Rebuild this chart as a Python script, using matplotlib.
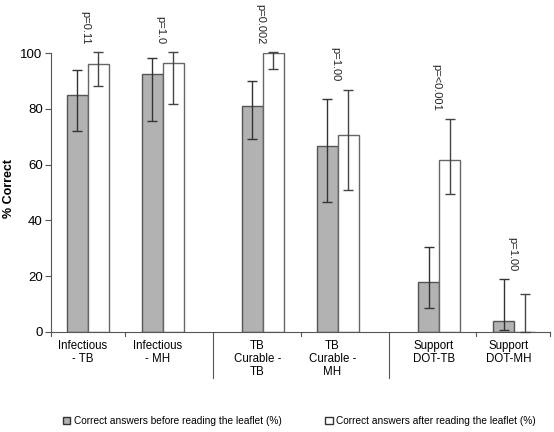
"""
Percent correct answers before / after reading the leaflet
"""

import matplotlib
matplotlib.use('Agg')

import numpy as np
import matplotlib.pyplot as plt
from matplotlib.patches import Patch

categories = ['Infectious\n- TB', 'Infectious\n- MH', 'TB\nCurable -\nTB',
              'TB\nCurable -\nMH', 'Support\nDOT-TB', 'Support\nDOT-MH']
before = [85, 92.6, 81, 66.7, 17.8, 3.8]
before_lo = [72, 75.6, 69.1, 46.7, 8.7, 0.8]
before_hi = [93.9, 98.3, 89.9, 83.6, 30.6, 18.9]
after = [96, 96.3, 100, 70.5, 61.8, 0]
after_lo = [88.2, 81.6, 94.3, 50.8, 49.4, 0]
after_hi = [100.2, 100.2, 100.2, 86.7, 76.2, 13.6]
pvalues = ['p=0.11', 'p=1.0', 'p=0.002', 'p=1.00', 'p=<0.001', 'p=1.00']


def main():
    plt.rcParams['font.family'] = ['Liberation Sans', 'DejaVu Sans']

    my_dpi = 100
    fig = plt.figure(figsize=(5.54, 4.32), dpi=my_dpi)
    ax = fig.add_axes([0.092, 0.2315, 0.901, 0.6458])

    # three groups of two categories, wider gap between groups
    x = np.array([0, 1, 2.33, 3.33, 4.68, 5.68])
    w = 0.28

    b = np.array(before)
    a = np.array(after)
    b_err = [b - np.array(before_lo), np.array(before_hi) - b]
    a_err = [a - np.array(after_lo), np.array(after_hi) - a]

    ax.bar(x - w/2, b, w, color='#b2b2b2', edgecolor='#555555',
           linewidth=1.0, zorder=2)
    ax.bar(x + w/2, a, w, color='white', edgecolor='#666666',
           linewidth=1.0, zorder=2)
    ax.errorbar(x - w/2, b, yerr=b_err, fmt='none', ecolor='#333333',
                elinewidth=1.0, capsize=3.6, capthick=1.0, zorder=3,
                clip_on=False)
    ax.errorbar(x + w/2, a, yerr=a_err, fmt='none', ecolor='#444444',
                elinewidth=1.0, capsize=3.6, capthick=1.0, zorder=3,
                clip_on=False)

    # p values above each pair
    for xi, p, bh, ah in zip(x, pvalues, before_hi, after_hi):
        ax.text(xi - 0.03, max(bh, ah) + 3, p, rotation=-90, ha='center',
                va='bottom', fontsize=8, color='#222222', clip_on=False)

    ax.set_xlim(-0.49, 6.16)
    ax.set_ylim(0, 100)
    ax.set_yticks(np.arange(0, 101, 20))
    ax.tick_params(axis='y', labelsize=9.5, length=4, width=0.8,
                   color='#555555', pad=2)
    fig.text(0.016, 0.563, '% Correct', rotation=90, ha='center',
             va='center', fontsize=9, fontweight='bold')

    for side in ['top', 'right']:
        ax.spines[side].set_visible(False)
    ax.spines['left'].set_color('#555555')
    ax.spines['bottom'].set_color('#555555')

    ax.set_xticks([])
    for xi, lab in zip(x, categories):
        ax.text(xi - 0.07, -3, lab, ha='center', va='top', fontsize=8.3,
                linespacing=1.1)

    # short ticks between categories, long separators between groups
    for t in [-0.49, 0.49, 2.84, 5.17, 6.16]:
        ax.plot([t, t], [0, -1.6], color='#555555', lw=0.8, clip_on=False)
    for t in [1.67, 4.01]:
        ax.plot([t, t], [0, -16.5], color='#555555', lw=0.8, clip_on=False)

    handles = [Patch(facecolor='#b2b2b2', edgecolor='#333333', lw=1.0),
               Patch(facecolor='white', edgecolor='#333333', lw=1.0)]
    labels = ['Correct answers before reading the leaflet (%)',
              'Correct answers after reading the leaflet (%)']
    fig.legend(handles, labels, loc='center', bbox_to_anchor=(0.54, 0.026),
               ncol=2, frameon=False, fontsize=7.3, handlelength=0.75,
               handleheight=0.75, handletextpad=0.35, columnspacing=4.3)

    plt.savefig('out.png', dpi=my_dpi)


if __name__ == "__main__":
    main()
